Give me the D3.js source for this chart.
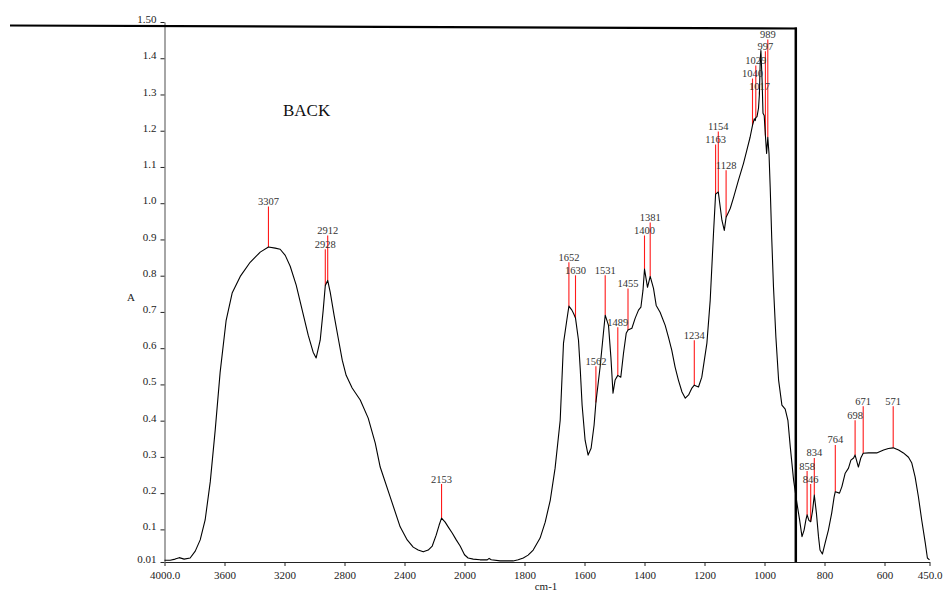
<!DOCTYPE html>
<html>
<head>
<meta charset="utf-8">
<script src="https://cdn.jsdelivr.net/npm/d3@7"></script>
<style>
  html, body { margin: 0; padding: 0; background: #fff; }
</style>
</head>
<body>
<svg id="chart" width="945" height="594"></svg>
<script>
// ─── Spectrum ───
const wavenumbers = [
  4000, 3962, 3929, 3902, 3869, 3829, 3795, 3762, 3729, 3695, 3662, 3629, 3589, 3549, 3495,
  3429, 3395, 3362, 3307, 3262, 3229, 3195, 3162, 3122, 3082, 3042, 3009, 2989, 2962, 2942,
  2928, 2912, 2895, 2869, 2842, 2815, 2789, 2749, 2695, 2642, 2595, 2562, 2495, 2429, 2382,
  2342, 2309, 2275, 2242, 2215, 2189, 2169, 2153, 2129, 2109, 2082, 2055, 2029, 2000, 1988,
  1971, 1948, 1924, 1918, 1911, 1881, 1838, 1821, 1804, 1788, 1771, 1748, 1731, 1714, 1698,
  1681, 1670, 1659, 1652, 1642, 1636, 1630, 1620, 1614, 1608, 1598, 1588, 1578, 1568, 1562,
  1548, 1537, 1531, 1520, 1512, 1505, 1498, 1489, 1479, 1470, 1461, 1455, 1442, 1431, 1420,
  1412, 1405, 1400, 1390, 1381, 1370, 1361, 1348, 1331, 1320, 1309, 1298, 1287, 1275, 1264,
  1253, 1242, 1234, 1220, 1209, 1192, 1181, 1170, 1163, 1154, 1142, 1134, 1128, 1120, 1114,
  1103, 1087, 1070, 1059, 1048, 1040, 1034, 1031, 1029, 1025, 1020, 1017, 1014, 1012, 1008,
  1005, 1001, 997, 993, 989, 985, 981, 976, 970, 962, 953, 942, 931, 922, 914,
  903, 892, 883, 875, 868, 862, 858, 852, 846, 840, 834, 827, 820, 815, 807,
  798, 787, 776, 768, 764, 750, 742, 731, 720, 712, 703, 698, 687, 679, 671,
  653, 626, 603, 587, 571, 553, 537, 520, 509, 498, 487, 476, 464, 457, 450
];
const absorbance = [
  0.015, 0.015, 0.018, 0.022, 0.018, 0.021, 0.040, 0.071, 0.126, 0.231, 0.374, 0.534, 0.677, 0.752, 0.798,
  0.837, 0.851, 0.865, 0.879, 0.876, 0.873, 0.856, 0.826, 0.774, 0.705, 0.636, 0.589, 0.573, 0.622, 0.705,
  0.773, 0.787, 0.754, 0.690, 0.628, 0.567, 0.525, 0.490, 0.457, 0.407, 0.338, 0.272, 0.189, 0.107, 0.071,
  0.051, 0.043, 0.038, 0.043, 0.054, 0.084, 0.112, 0.131, 0.120, 0.107, 0.090, 0.071, 0.054, 0.030, 0.021,
  0.018, 0.016, 0.016, 0.020, 0.016, 0.013, 0.013, 0.016, 0.021, 0.029, 0.043, 0.076, 0.120, 0.181, 0.269,
  0.401, 0.614, 0.677, 0.716, 0.705, 0.695, 0.683, 0.622, 0.539, 0.443, 0.346, 0.305, 0.324, 0.388, 0.450,
  0.548, 0.641, 0.691, 0.663, 0.575, 0.476, 0.512, 0.525, 0.520, 0.586, 0.641, 0.650, 0.655, 0.683, 0.705,
  0.713, 0.760, 0.818, 0.768, 0.798, 0.765, 0.718, 0.699, 0.663, 0.630, 0.594, 0.548, 0.512, 0.479, 0.462,
  0.471, 0.490, 0.498, 0.493, 0.520, 0.614, 0.732, 0.917, 1.025, 1.031, 0.953, 0.925, 0.961, 0.975, 0.986,
  1.016, 1.063, 1.110, 1.146, 1.182, 1.215, 1.233, 1.228, 1.236, 1.239, 1.262, 1.300, 1.400, 1.421, 1.339,
  1.248, 1.242, 1.187, 1.137, 1.182, 1.137, 1.044, 0.906, 0.768, 0.630, 0.512, 0.443, 0.432, 0.401, 0.327,
  0.236, 0.173, 0.126, 0.080, 0.098, 0.126, 0.140, 0.125, 0.121, 0.150, 0.195, 0.145, 0.080, 0.043, 0.032,
  0.062, 0.098, 0.145, 0.189, 0.204, 0.200, 0.218, 0.255, 0.269, 0.291, 0.297, 0.305, 0.272, 0.297, 0.310,
  0.311, 0.311, 0.319, 0.323, 0.325, 0.319, 0.311, 0.299, 0.283, 0.245, 0.190, 0.126, 0.062, 0.021, 0.016
];

// ─── Peak picks and the height their labels sit at ───
const peakWavenumbers = [3307, 2928, 2912, 2153, 1652, 1630, 1562, 1531, 1489, 1455, 1400, 1381, 1234,
  1163, 1154, 1128, 1040, 1029, 1017, 997, 989, 858, 846, 834, 764, 698, 671, 571];
const peakLabelLevels = [0.991, 0.873, 0.911, 0.225, 0.837, 0.801, 0.550, 0.801, 0.658, 0.765, 0.911, 0.947, 0.622,
  1.162, 1.198, 1.091, 1.344, 1.380, 1.308, 1.419, 1.452, 0.261, 0.225, 0.297, 0.333, 0.401, 0.440, 0.440];

// ─── Axis ticks ───
const xTicks = [4000, 3600, 3200, 2800, 2400, 2000, 1800, 1600, 1400, 1200, 1000, 800, 600, 450];
const yTicks = [0.01, 0.1, 0.2, 0.3, 0.4, 0.5, 0.6, 0.7, 0.8, 0.9, 1.0, 1.1, 1.2, 1.3, 1.4, 1.5];

const FONT = '"Liberation Serif", "Times New Roman", "DejaVu Serif", serif';

const svg = d3.select("#chart").attr("font-family", FONT);

// split scale: 0.15 px per cm-1 above 2000, 0.3 below
const x = d3.scaleLinear().domain([4000, 2000, 450]).range([164.5, 464.5, 929.5]);
const y = d3.scaleLinear().domain([0.01, 1.5]).range([562, 22]);

const spectrum = wavenumbers.map((w, i) => ({ w, a: absorbance[i] }));

// ─── Axes ───
const xAxis = svg.append("g")
  .attr("transform", `translate(0,${y(0.01)})`)
  .call(d3.axisBottom(x).tickValues(xTicks).tickSizeInner(4).tickSizeOuter(0)
    .tickFormat(d => (d === 4000 || d === 450) ? d.toFixed(1) : d));
xAxis.attr("font-family", FONT);
xAxis.select(".domain").attr("stroke", "#222");
xAxis.selectAll(".tick line").attr("stroke", "#222");
xAxis.selectAll("text").attr("font-size", 11).attr("fill", "#222").attr("dy", "0.9em");

const yAxis = svg.append("g")
  .attr("transform", `translate(${x(4000)},0)`)
  .call(d3.axisLeft(y).tickValues(yTicks).tickSizeInner(4).tickSizeOuter(0)
    .tickFormat(d => d === 0.01 ? "0.01" : d === 1.5 ? "1.50" : d.toFixed(1)));
yAxis.attr("font-family", FONT);
yAxis.select(".domain").attr("stroke", "#888").attr("stroke-width", 1.5);
yAxis.selectAll(".tick line").attr("stroke", "#222");
yAxis.selectAll("text").attr("font-size", 11).attr("fill", "#222").attr("x", -8).attr("dy", "0.05em");

svg.append("text").attr("x", 131).attr("y", 301).attr("text-anchor", "middle")
  .attr("font-size", 11).attr("fill", "#222").text("A");
svg.append("text").attr("x", 546).attr("y", 590).attr("text-anchor", "middle")
  .attr("font-size", 11).attr("fill", "#222").text("cm-1");

// ─── Stray frame lines ───
svg.append("line").attr("x1", 10).attr("y1", 25.5).attr("x2", 797).attr("y2", 28.5)
  .attr("stroke", "#000").attr("stroke-width", 2.2);
svg.append("line").attr("x1", 795.8).attr("y1", 27.5).attr("x2", 795.8).attr("y2", y(0.01))
  .attr("stroke", "#000").attr("stroke-width", 2.5);

svg.append("text").attr("x", 283).attr("y", 116)
  .attr("font-size", 17).attr("fill", "#111").text("BACK");

// ─── Peak markers ───
const interp = w => {
  const i = wavenumbers.findIndex(v => v <= w);
  if (i <= 0) return absorbance[0];
  const w0 = wavenumbers[i - 1], w1 = wavenumbers[i];
  const t = (w0 - w) / (w0 - w1);
  return absorbance[i - 1] + t * (absorbance[i] - absorbance[i - 1]);
};
const peaks = peakWavenumbers.map((w, i) => ({ w, top: peakLabelLevels[i], a: interp(w) }));

svg.selectAll(".peak")
  .data(peaks.filter(p => p.a < p.top)).enter().append("line")
    .attr("class", "peak")
    .attr("x1", d => x(d.w)).attr("x2", d => x(d.w))
    .attr("y1", d => y(d.top)).attr("y2", d => y(d.a))
    .attr("stroke", "#ff1a1a").attr("stroke-width", 1.1);

// ─── Spectrum line ───
svg.append("path")
  .datum(spectrum)
  .attr("fill", "none")
  .attr("stroke", "#000")
  .attr("stroke-width", 1.1)
  .attr("stroke-linejoin", "round")
  .attr("d", d3.line().x(d => x(d.w)).y(d => y(d.a)));

svg.selectAll(".plabel")
  .data(peaks).enter().append("text")
    .attr("class", "plabel")
    .attr("x", d => x(d.w))
    .attr("y", d => y(d.top) - 1.5)
    .attr("text-anchor", "middle")
    .attr("font-size", 10.5)
    .attr("fill", "#333")
    .text(d => d.w);
</script>
</body>
</html>
